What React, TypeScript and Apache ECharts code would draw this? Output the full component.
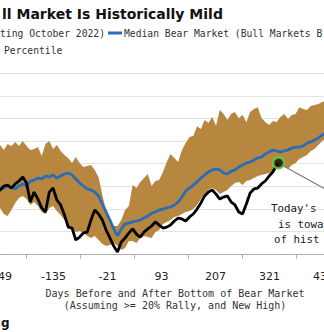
import React, { useEffect, useRef } from "react";
import * as echarts from "echarts";

// Days relative to the bottom of the bear market
const days = [
  -256, -248, -240, -232, -224, -216, -208, -200, -192, -184,
  -176, -168, -160, -152, -144, -136, -128, -120, -112, -104,
  -96, -88, -80, -72, -64, -56, -48, -40, -32, -24,
  -16, -8, 0, 8, 16, 24, 32, 40, 48, 56,
  64, 72, 80, 88, 96, 104, 112, 120, 128, 136,
  144, 152, 160, 168, 176, 184, 192, 200, 208, 216,
  224, 232, 240, 248, 256, 264, 272, 280, 288, 296,
  304, 312, 320, 328, 336, 344, 352, 360, 368, 376,
  384, 392, 400, 408, 416, 424, 432, 440,
];

// Upper edge of the percentile band
const bandUpper = [
  46.9, 48.2, 46.0, 48.7, 47.8, 49.6, 47.8, 50.0, 47.8, 46.0,
  46.5, 47.3, 43.4, 48.7, 50.0, 46.5, 48.2, 45.6, 43.8, 42.5,
  40.3, 42.9, 40.3, 38.5, 38.9, 39.4, 37.2, 34.1, 26.1, 19.0,
  15.0, 12.4, 12.4, 15.0, 19.5, 21.2, 30.5, 29.2, 31.9, 33.6,
  35.4, 30.1, 32.3, 32.7, 36.3, 40.7, 44.3, 42.5, 40.7, 46.0,
  49.1, 51.8, 52.2, 56.5, 55.3, 59.3, 58.0, 60.6, 56.8, 63.7,
  62.0, 59.4, 62.1, 62.8, 60.1, 61.6, 58.3, 62.8, 64.2, 65.0,
  60.2, 58.4, 57.1, 58.9, 58.4, 60.6, 62.0, 59.7, 61.5, 62.0,
  65.0, 64.2, 63.7, 65.5, 65.9, 66.4, 67.3, 67.7,
];

// Lower edge of the percentile band
const bandLower = [
  21.7, 20.4, 17.7, 16.8, 19.5, 22.6, 24.8, 25.7, 24.3, 21.7,
  23.0, 21.2, 18.6, 17.7, 20.4, 21.2, 19.0, 17.3, 15.0, 12.4,
  11.1, 9.7, 10.2, 9.3, 8.0, 7.1, 8.0, 6.2, 4.4, 3.5,
  4.0, 4.9, 3.5, 1.8, 2.7, 5.8, 5.8, 4.9, 7.1, 8.0,
  7.5, 7.1, 9.7, 10.6, 13.3, 14.2, 15.0, 16.4, 16.8, 17.7,
  18.6, 19.0, 19.9, 21.7, 24.3, 26.5, 28.3, 29.2, 28.3, 26.5,
  27.4, 28.3, 30.1, 31.4, 31.9, 30.5, 32.3, 32.7, 33.6, 34.5,
  35.0, 35.4, 35.8, 36.7, 37.6, 38.1, 38.9, 37.6, 39.4, 40.3,
  42.0, 42.9, 43.8, 45.6, 46.5, 48.2, 50.0, 50.9,
];

// Median bear market path
const medianBear = [
  28.8, 28.3, 29.2, 30.1, 29.6, 28.8, 30.1, 31.0, 30.1, 32.3,
  32.7, 33.6, 33.2, 34.5, 34.1, 35.0, 33.6, 34.5, 35.4, 35.8,
  35.0, 33.2, 31.4, 30.1, 28.8, 28.3, 27.4, 25.7, 22.1, 18.6,
  15.0, 11.1, 8.0, 11.1, 13.3, 13.7, 14.2, 14.6, 15.0, 15.9,
  16.8, 18.1, 18.6, 19.5, 19.9, 20.4, 20.8, 21.7, 23.0, 25.2,
  27.9, 29.2, 30.5, 31.9, 33.6, 35.0, 36.3, 37.2, 37.6, 37.2,
  35.8, 35.4, 36.7, 37.2, 38.5, 39.4, 40.3, 40.7, 41.6, 42.5,
  42.9, 44.3, 45.1, 46.0, 45.6, 45.1, 45.6, 46.0, 46.9, 47.3,
  47.3, 47.8, 49.1, 49.6, 50.4, 51.3, 52.7, 53.5,
];

// S&P 500 starting October 2022 (ends at today)
const sp500Current = [
  27.4, 28.3, 30.1, 30.5, 29.2, 31.0, 32.3, 34.1, 31.4, 23.0,
  27.4, 24.3, 20.4, 18.6, 27.4, 29.2, 23.9, 21.7, 17.3, 11.9,
  11.5, 6.2, 7.5, 9.3, 9.7, 15.0, 19.5, 17.7, 15.0, 10.6,
  7.1, 3.5, 0.9, 5.3, 7.1, 9.3, 11.1, 8.8, 7.5, 9.7,
  11.1, 12.4, 14.2, 12.8, 11.5, 11.9, 12.8, 14.6, 15.9, 15.5,
  14.6, 16.4, 17.7, 19.9, 22.6, 25.7, 27.4, 28.3, 26.5, 24.3,
  25.2, 25.7, 23.0, 21.7, 18.6, 17.7, 22.1, 27.0, 28.8, 29.2,
  31.0, 32.3, 34.5, 36.3, 39.4,
];
const todayDay = 340;
const todayValue = 40.3;

const xLabelValues = [-249, -135, -21, 93, 207, 321, 435];
const xTickValues = [-192, -78, 36, 150, 264, 378];

const OFF = 40; // chart canvas is shifted left by this many px (cropped view)
const MONO = '"DejaVu Sans Mono", monospace';
const BAND = "#b8873f";
const BLUE = "#2b6cb8";

export default function App() {
  const ref = useRef<HTMLDivElement>(null);
  useEffect(() => {
    if (!ref.current) return;
    const chart = echarts.init(ref.current, null, { renderer: "svg" });
    const medianData = days.map((d, i) => [d, medianBear[i]]);
    const spData = sp500Current.map((v, i) => [days[i], v]);
    spData.push([todayDay, todayValue]);

    chart.setOption({
      animation: false,
      grid: { left: 29.6, right: 28.6, top: 64.2, bottom: 78 },
      xAxis: {
        type: "value",
        min: -270,
        max: 460,
        offset: 8,
        axisLine: { show: true, lineStyle: { color: "#b5b5b5", width: 1 } },
        axisTick: { show: true, customValues: xTickValues, length: 5, lineStyle: { color: "#b5b5b5" } },
        axisLabel: {
          customValues: xLabelValues,
          margin: 9,
          color: "#222",
          fontFamily: '"DejaVu Sans", sans-serif',
          fontSize: 11,
        },
        splitLine: { show: false },
      },
      yAxis: {
        type: "value",
        min: 0,
        max: 84,
        interval: 10,
        axisLine: { show: false },
        axisTick: { show: false },
        axisLabel: { show: false },
        splitLine: {
          show: true,
          showMinLine: false,
          showMaxLine: false,
          lineStyle: { color: "#e2e2e2", width: 1 },
        },
      },
      series: [
        {
          name: "Percentile",
          type: "custom",
          data: [[days[0], bandLower[0]]],
          silent: true,
          z: 1,
          renderItem: (_params: any, api: any) => {
            const pts: number[][] = [];
            for (let i = 0; i < days.length; i++) pts.push(api.coord([days[i], bandUpper[i]]));
            for (let i = days.length - 1; i >= 0; i--) pts.push(api.coord([days[i], bandLower[i]]));
            return { type: "polygon", shape: { points: pts }, style: { fill: BAND } };
          },
        },
        {
          name: "Median Bear Market",
          type: "line",
          data: medianData,
          symbol: "none",
          clip: false,
          lineStyle: { color: BLUE, width: 2.8 },
          z: 3,
          silent: true,
          markLine: {
            silent: true,
            symbol: "none",
            label: { show: false },
            data: [
              { yAxis: 0, lineStyle: { color: "#a8a8a8", type: [3, 2], width: 1 } },
              [
                { coord: [0, 84], lineStyle: { color: "#222", type: [4, 3], width: 2 } },
                { coord: [0, -3.5] },
              ],
            ],
          },
        },
        {
          name: "S&P 500",
          type: "line",
          data: spData,
          symbol: "none",
          lineStyle: { color: "#000", width: 2.8 },
          z: 4,
          silent: true,
        },
        {
          name: "Today",
          type: "scatter",
          data: [[todayDay, todayValue]],
          symbolSize: 11,
          itemStyle: { color: "#111", borderColor: "#62cf4f", borderWidth: 2.5 },
          z: 5,
          silent: true,
        },
      ],
    });

    const p = chart.convertToPixel({ gridIndex: 0 }, [todayDay, todayValue]) as number[];
    const legendFont = `9.7px ${MONO}`;
    const noteFont = `10.8px ${MONO}`;

    chart.setOption({
      graphic: [
        {
          type: "text",
          x: 2 + OFF,
          y: 14,
          style: {
            text: "ll Market Is Historically Mild",
            font: 'bold 14px "DejaVu Sans", sans-serif',
            fill: "#111",
            align: "left",
            verticalAlign: "middle",
          },
        },
        {
          type: "text",
          x: 0 + OFF,
          y: 33,
          style: { text: "ting October 2022)", font: legendFont, fill: "#333", align: "left", verticalAlign: "middle" },
        },
        {
          type: "line",
          shape: { x1: 108 + OFF, y1: 33, x2: 122 + OFF, y2: 33 },
          style: { stroke: BLUE, lineWidth: 3 },
        },
        {
          type: "text",
          x: 124 + OFF,
          y: 33,
          style: {
            text: "Median Bear Market (Bull Markets B",
            font: legendFont,
            fill: "#333",
            align: "left",
            verticalAlign: "middle",
          },
        },
        {
          type: "text",
          x: 4 + OFF,
          y: 50,
          style: { text: "Percentile", font: legendFont, fill: "#333", align: "left", verticalAlign: "middle" },
        },
        {
          type: "text",
          x: 175 + OFF,
          y: 293,
          style: {
            text: "Days Before and After Bottom of Bear Market",
            font: `10px ${MONO}`,
            fill: "#333",
            align: "center",
            verticalAlign: "middle",
          },
        },
        {
          type: "text",
          x: 175 + OFF,
          y: 305,
          style: {
            text: "(Assuming >= 20% Rally, and New High)",
            font: `10px ${MONO}`,
            fill: "#333",
            align: "center",
            verticalAlign: "middle",
          },
        },
        {
          type: "line",
          z: 10,
          shape: { x1: p[0] + 5, y1: p[1] + 3, x2: p[0] + 70, y2: p[1] + 39 },
          style: { stroke: "#777", lineWidth: 1.2 },
        },
        {
          type: "text",
          x: 271 + OFF,
          y: 208,
          style: { text: "Today's", font: noteFont, fill: "#222", align: "left", verticalAlign: "middle" },
        },
        {
          type: "text",
          x: 278 + OFF,
          y: 224,
          style: { text: "is towa", font: noteFont, fill: "#222", align: "left", verticalAlign: "middle" },
        },
        {
          type: "text",
          x: 274 + OFF,
          y: 239,
          style: { text: "of hist", font: noteFont, fill: "#222", align: "left", verticalAlign: "middle" },
        },
        {
          type: "text",
          x: 1 + OFF,
          y: 323,
          style: {
            text: "g",
            font: 'bold 12px "DejaVu Sans", sans-serif',
            fill: "#111",
            align: "left",
            verticalAlign: "middle",
          },
        },
      ],
    });

    return () => chart.dispose();
  }, []);

  return (
    <div
      style={{
        position: "fixed",
        left: 0,
        top: 0,
        width: 324,
        height: 332,
        overflow: "hidden",
        background: "#fff",
      }}
    >
      <div ref={ref} style={{ position: "absolute", left: -OFF, top: 0, width: 324 + 2 * OFF, height: 332 }} />
    </div>
  );
}
